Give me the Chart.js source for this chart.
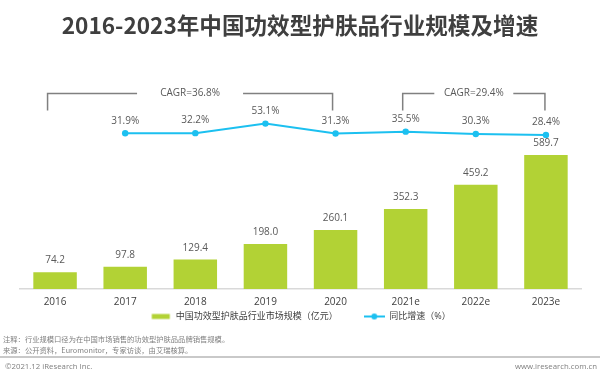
<!DOCTYPE html>
<html>
<head>
<meta charset="utf-8">
<script src="https://cdn.jsdelivr.net/npm/chart.js@4.4.1/dist/chart.umd.min.js"></script>
<style>
html,body{margin:0;padding:0;background:#fff;}
#wrap{position:relative;width:600px;height:376px;overflow:hidden;background:#fff;}
#c{position:absolute;left:0;top:0;}
.t{position:absolute;white-space:nowrap;font-family:'Open Sans','Noto Sans CJK SC',sans-serif;}
#title{left:0;width:600px;top:10px;text-align:center;font-family:'Noto Sans CJK SC',sans-serif;font-weight:700;font-size:22.6px;line-height:30px;color:#3f3f3f;}
.note{left:3px;font-family:'Noto Sans CJK SC',sans-serif;font-size:7.3px;line-height:10px;color:#7f7f7f;}
#n1{top:334px;}
#n2{top:344.5px;}
#rule{position:absolute;left:0;top:356px;width:600px;height:2px;background:#c9c9c9;}
.foot{top:360.5px;font-size:7.8px;line-height:10px;color:#7f7f7f;}
#copy{left:5px;}
#site{right:3px;}
</style>
</head>
<body>
<div id="wrap">
  <canvas id="c" width="600" height="376"></canvas>
  <div id="title" class="t">2016-2023年中国功效型护肤品行业规模及增速</div>
  <div id="n1" class="t note">注释：行业规模口径为在中国市场销售的功效型护肤品品牌销售规模。</div>
  <div id="n2" class="t note">来源：公开资料，Euromonitor，专家访谈，由艾瑞核算。</div>
  <div id="rule"></div>
  <div id="copy" class="t foot">©2021.12 iResearch Inc.</div>
  <div id="site" class="t foot">www.iresearch.com.cn</div>
</div>
<script>
// ---- data ----
const categories = ['2016', '2017', '2018', '2019', '2020', '2021e', '2022e', '2023e'];
const marketSize = [74.2, 97.8, 129.4, 198.0, 260.1, 352.3, 459.2, 589.7];
const growthRate = [null, 31.9, 32.2, 53.1, 31.3, 35.5, 30.3, 28.4];
const seriesNames = ['中国功效型护肤品行业市场规模（亿元）', '同比增速（%）'];
const cagrFrom = ['2016', '2021e'];
const cagrTo = ['2020', '2023e'];
const cagrLabels = ['CAGR=36.8%', 'CAGR=29.4%'];

// ---- styles ----
const barColor = '#b2d235';
const lineColor = '#1cc0f0';
const textColor = '#595959';
const FONT = "'Open Sans', 'Noto Sans CJK SC', sans-serif";
Chart.defaults.font.family = FONT;

function makeMarker(kind) {
  const c = document.createElement('canvas');
  c.width = 21; c.height = 8;
  const g = c.getContext('2d');
  if (kind === 'bar') {
    g.fillStyle = barColor;
    g.fillRect(1.5, 1.5, 18, 5);
  } else {
    g.strokeStyle = lineColor; g.lineWidth = 2;
    g.beginPath(); g.moveTo(0, 4); g.lineTo(21, 4); g.stroke();
    g.fillStyle = lineColor;
    g.beginPath(); g.arc(10.5, 4, 3, 0, Math.PI * 2); g.fill();
  }
  return c;
}
const markers = [makeMarker('bar'), makeMarker('line')];

const valueLabels = {
  id: 'valueLabels',
  afterDatasetsDraw(chart) {
    const ctx = chart.ctx;
    ctx.save();
    ctx.font = '10px ' + FONT;
    ctx.fillStyle = textColor;
    ctx.textAlign = 'center';
    ctx.textBaseline = 'middle';
    chart.getDatasetMeta(0).data.forEach((el, i) => {
      ctx.fillText(marketSize[i].toFixed(1), el.x, el.y - 11.5);
    });
    chart.getDatasetMeta(1).data.forEach((el, i) => {
      if (growthRate[i] == null) return;
      ctx.fillText(growthRate[i].toFixed(1) + '%', el.x, el.y - 12.5);
    });
    ctx.restore();
  }
};

const cagrBrackets = {
  id: 'cagrBrackets',
  afterDatasetsDraw(chart, args, opts) {
    const xs = chart.scales.x;
    const top = chart.chartArea.top;
    const ctx = chart.ctx;
    ctx.save();
    ctx.strokeStyle = '#808080';
    ctx.lineWidth = 1.5;
    ctx.font = '10px ' + FONT;
    ctx.fillStyle = textColor;
    ctx.textAlign = 'center';
    ctx.textBaseline = 'middle';
    cagrLabels.forEach((txt, k) => {
      const l = xs.getPixelForValue(categories.indexOf(cagrFrom[k])) + opts.leftShift[k];
      const r = xs.getPixelForValue(categories.indexOf(cagrTo[k])) + opts.rightShift[k];
      const yT = top + opts.topOffset, yB = top + opts.bottomOffset;
      const cx = (l + r) / 2, half = opts.gap[k] / 2;
      ctx.beginPath();
      ctx.moveTo(l, yB); ctx.lineTo(l, yT); ctx.lineTo(cx - half, yT);
      ctx.moveTo(cx + half, yT); ctx.lineTo(r, yT); ctx.lineTo(r, yB);
      ctx.stroke();
      ctx.fillText(txt, cx, yT);
    });
    ctx.restore();
  }
};

const legendNudge = {
  id: 'legendNudge',
  afterLayout(chart) {
    const lg = chart.legend;
    if (!lg) return;
    const P = lg.options.labels.padding;
    const fs = lg.options.labels.font.size;
    lg.top = chart.scales.x.bottom + 1.5 - P - fs / 2;
  }
};

new Chart(document.getElementById('c'), {
  data: {
    labels: categories,
    datasets: [
      {
        type: 'bar',
        label: seriesNames[0],
        data: marketSize,
        backgroundColor: barColor,
        yAxisID: 'y',
        categoryPercentage: 1,
        barPercentage: 0.62
      },
      {
        type: 'line',
        label: seriesNames[1],
        data: growthRate,
        borderColor: lineColor,
        backgroundColor: lineColor,
        borderWidth: 2,
        pointRadius: 3.2,
        pointBorderWidth: 0,
        pointBackgroundColor: lineColor,
        tension: 0,
        yAxisID: 'y1'
      }
    ]
  },
  options: {
    responsive: false,
    animation: false,
    layout: { padding: { left: 20, right: 19, top: 90, bottom: 16 } },
    scales: {
      x: {
        grid: { display: false, drawTicks: false },
        border: { color: '#d9d9d9', width: 1.5 },
        ticks: { color: '#404040', font: { size: 10 }, padding: 7 }
      },
      y: { display: false, min: 0, max: 876 },
      y1: { display: false, min: -308, max: 126.4 }
    },
    plugins: {
      legend: {
        position: 'bottom',
        labels: {
          usePointStyle: true,
          pointStyleWidth: 21,
          boxHeight: 9,
          padding: 26,
          color: '#404040',
          font: { size: 9 },
          generateLabels(chart) {
            return chart.data.datasets.map((ds, i) => ({
              text: ds.label,
              pointStyle: markers[i],
              fillStyle: 'rgba(0,0,0,0)',
              strokeStyle: 'rgba(0,0,0,0)',
              lineWidth: 0,
              hidden: false,
              datasetIndex: i,
              fontColor: '#404040'
            }));
          }
        }
      },
      tooltip: { enabled: false },
      cagrBrackets: { leftShift: [-7.5, -3], rightShift: [-3, -1], gap: [106, 79], topOffset: 3.5, bottomOffset: 20.5 }
    }
  },
  plugins: [valueLabels, cagrBrackets, legendNudge]
});
</script>
</body>
</html>
